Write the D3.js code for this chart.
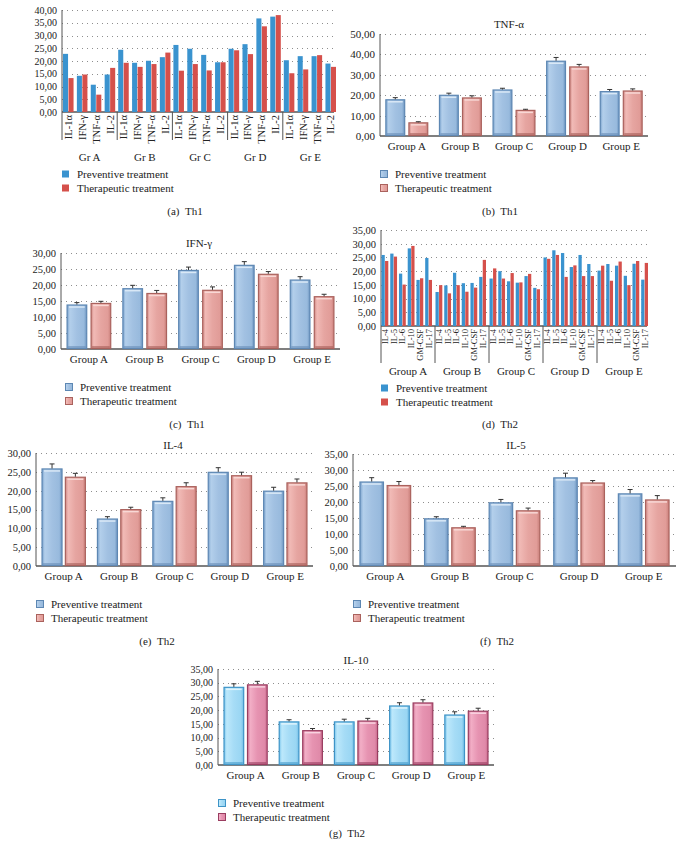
<!DOCTYPE html>
<html><head><meta charset="utf-8">
<script src="https://cdn.jsdelivr.net/npm/d3@7"></script>
<style>
body{margin:0;background:#fff}
svg{display:block;font-family:"Liberation Serif","Times New Roman",serif}
</style>
</head><body>
<svg id="chart" width="682" height="851"></svg>
<script>
// ---------- DATA ----------
const groupNames = ["Group A","Group B","Group C","Group D","Group E"];
const seriesNames = ["Preventive treatment","Therapeutic treatment"];

// (a) Th1 all cytokines
const th1GroupNames = ["Gr A","Gr B","Gr C","Gr D","Gr E"];
const th1Cytokines = ["IL-1α","IFN-γ","TNF-α","IL-2"];
const th1Preventive = [22.8,14.2,10.7,14.7, 24.4,19.3,20.1,21.5, 26.3,24.8,22.4,19.5, 24.8,26.6,36.7,37.4, 20.3,21.9,21.9,19.0];
const th1Therapeutic = [13.3,14.7,6.8,17.3, 19.3,17.7,18.8,23.3, 16.2,18.8,16.3,19.5, 24.2,22.7,33.6,38.0, 15.2,16.7,22.3,17.7];
const th1Ticks = [0,5,10,15,20,25,30,35,40];

// (d) Th2 all cytokines
const th2Cytokines = ["IL-4","IL-5","IL-6","IL-10","GM-CSF","IL-17"];
const th2Preventive = [25.9,26.4,19.1,28.3,16.8,24.8, 12.4,14.8,19.4,15.6,15.7,17.9, 17.3,20.0,16.3,15.8,18.2,13.9, 25.0,27.6,26.6,21.5,25.9,22.6, 20.2,22.6,22.0,18.3,22.7,16.9];
const th2Therapeutic = [23.7,25.3,15.1,29.2,17.4,16.8, 14.9,11.9,14.9,12.5,14.0,24.1, 21.0,17.3,19.3,15.9,19.0,13.4, 24.5,25.9,17.9,22.1,18.2,18.2, 22.0,16.5,23.5,14.9,23.7,23.0];
const th2Ticks = [0,5,10,15,20,25,30,35];

// (b) TNF-α
const tnfPreventive = [18.0,20.2,22.8,36.9,22.0];
const tnfTherapeutic = [6.7,18.9,12.8,34.1,22.3];
const tnfPrevErr = [0.8,0.8,0.6,1.6,0.8];
const tnfTherErr = [0.3,0.8,0.3,1.0,0.8];
const tnfTicks = [0,10,20,30,40,50];

// (c) IFN-γ
const ifnPreventive = [13.9,19.0,24.7,26.3,21.7];
const ifnTherapeutic = [14.4,17.5,18.5,23.5,16.5];
const ifnPrevErr = [0.6,0.9,0.9,1.0,0.9];
const ifnTherErr = [0.5,0.8,0.9,0.7,0.6];
const ifnTicks = [0,5,10,15,20,25,30];

// (e) IL-4
const il4Preventive = [25.9,12.6,17.3,25.0,20.0];
const il4Therapeutic = [23.7,15.1,21.2,24.1,22.2];
const il4PrevErr = [1.2,0.5,0.8,1.1,0.9];
const il4TherErr = [0.9,0.5,0.9,0.8,0.9];
const il4Ticks = [0,5,10,15,20,25,30];

// (f) IL-5
const il5Preventive = [26.4,14.9,19.9,27.7,22.7];
const il5Therapeutic = [25.3,12.1,17.4,26.1,20.8];
const il5PrevErr = [1.2,0.5,0.9,1.3,1.2];
const il5TherErr = [1.1,0.3,0.7,0.6,1.2];
const il5Ticks = [0,5,10,15,20,25,30,35];

// (g) IL-10
const il10Preventive = [28.5,15.9,15.9,21.7,18.4];
const il10Therapeutic = [29.4,12.7,16.2,22.8,19.8];
const il10PrevErr = [1.1,0.6,0.8,1.0,1.0];
const il10TherErr = [1.1,0.6,0.8,1.0,0.9];
const il10Ticks = [0,5,10,15,20,25,30,35];

// ---------- DRAWING ----------
const FONT = '"Liberation Serif","Times New Roman",serif';
const svg = d3.select("#chart");
const fmt = v => d3.format(".2f")(v).replace(".", ",");
const defs = svg.append("defs");
function grad(id, stops){
  const g = defs.append("linearGradient").attr("id", id).attr("x1",0).attr("x2",1).attr("y1",0).attr("y2",0);
  stops.forEach(([o,c]) => g.append("stop").attr("offset",o).attr("stop-color",c));
}
grad("gBlue", [[0,"#7ba3cd"],[0.14,"#b3cfeb"],[0.5,"#a2c1e2"],[0.86,"#98badd"],[1,"#6d95c0"]]);
grad("gRed",  [[0,"#cf8985"],[0.14,"#f1bab6"],[0.5,"#e6a5a1"],[0.86,"#e19c98"],[1,"#c97f7a"]]);
grad("gCyan", [[0,"#7cc6ec"],[0.14,"#bce8fb"],[0.5,"#a6dcf6"],[0.86,"#9ad6f3"],[1,"#72bde6"]]);
grad("gPink", [[0,"#cf7596"],[0.14,"#f2aec6"],[0.5,"#e693b1"],[0.86,"#e08aa9"],[1,"#c86b8d"]]);

const softStyles = {
  soft: [{fill:"url(#gBlue)", stroke:"#5d87b3", hi:"#d9e8f6", base:"#6b90b9"},
         {fill:"url(#gRed)",  stroke:"#aa625d", hi:"#f8d8d5", base:"#a9605b"}],
  pink: [{fill:"url(#gCyan)", stroke:"#3e94c7", hi:"#e0f5fd", base:"#4a9ccb"},
         {fill:"url(#gPink)", stroke:"#9a3d60", hi:"#f9d3e1", base:"#9c4164"}]
};
const flatColors = ["#3a93cf","#d5504b"];

function txt(g, x, y, s, fs, anchor){
  return g.append("text").attr("x",x).attr("y",y).attr("font-size",fs)
    .attr("font-family",FONT).attr("fill","#222").attr("text-anchor",anchor||"middle")
    .attr("dy","0.35em").text(s);
}

function axesGrid(g, y, x0, xGridEnd, xAxisEnd, ticks, fs){
  g.append("g").selectAll("line").data(ticks.filter(t=>t>0)).join("line")
    .attr("x1",x0).attr("x2",xGridEnd)
    .attr("y1",d=>Math.round(y(d))+0.5).attr("y2",d=>Math.round(y(d))+0.5)
    .attr("stroke","#8e8e8e").attr("stroke-dasharray","1,4");
  const ax = g.append("g").attr("transform",`translate(${x0},0)`)
    .call(d3.axisLeft(y).tickValues(ticks).tickSize(0).tickPadding(5).tickFormat(fmt));
  ax.select(".domain").remove();
  ax.attr("font-family",FONT).attr("font-size",fs);
  ax.selectAll("text").attr("fill","#222");
  const yb = y.range()[0], yt = y.range()[1];
  g.append("line").attr("x1",x0).attr("x2",x0).attr("y1",yt).attr("y2",yb).attr("stroke","#555");
  g.append("line").attr("x1",x0).attr("x2",xAxisEnd).attr("y1",yb).attr("y2",yb).attr("stroke","#555").attr("stroke-width",1.3);
}

function legend(g, x, y, kind){
  seriesNames.forEach((s,i)=>{
    const cy = y + i*14;
    if(kind === "flat"){
      g.append("rect").attr("x",x).attr("y",cy-3.5).attr("width",7).attr("height",7).attr("fill",flatColors[i]);
    } else {
      const st = softStyles[kind][i];
      g.append("rect").attr("x",x+0.5).attr("y",cy-3.5).attr("width",7).attr("height",7)
        .attr("fill",st.fill).attr("stroke",st.stroke);
    }
    txt(g, x+15, cy, s, 11, "start");
  });
}

function caption(g, x, y, a, b){
  const t = g.append("text").attr("x",x).attr("y",y).attr("font-size",11).attr("font-family",FONT)
    .attr("fill","#222").attr("text-anchor","middle").attr("dy","0.35em");
  t.text(a + "\u2002" + b);
}

// Simple grouped panel with error bars
function simplePanel(c){
  const g = svg.append("g");
  const y = d3.scaleLinear().domain([0, c.ticks[c.ticks.length-1]]).range([c.yBot, c.yTop]);
  const x = d3.scaleBand().domain(groupNames).range([c.x0, c.x1]).paddingInner(0.2).paddingOuter(0.1);
  const xs = d3.scaleBand().domain([0,1]).range([0, x.bandwidth()]).paddingInner(c.inner||0.14);
  axesGrid(g, y, c.x0, c.x1, c.x1, c.ticks, c.tickFs);
  const recs = [];
  groupNames.forEach((gn,i)=>{
    recs.push({g:gn, s:0, v:c.prev[i], e:c.prevErr[i]});
    recs.push({g:gn, s:1, v:c.ther[i], e:c.therErr[i]});
  });
  const bars = g.append("g").selectAll("g").data(recs).join("g");
  bars.each(function(d){
    const st = softStyles[c.style][d.s];
    const bx = x(d.g) + xs(d.s), bw = xs.bandwidth();
    const by = y(d.v), bh = y(0) - y(d.v);
    const sel = d3.select(this);
    sel.append("rect").attr("x",bx+0.5).attr("y",by+0.5).attr("width",bw-1).attr("height",bh-1)
      .attr("fill",st.fill).attr("stroke",st.stroke).attr("stroke-width",1.2);
    sel.append("line").attr("x1",bx+2.5).attr("x2",bx+bw-2.5).attr("y1",by+2.5).attr("y2",by+2.5)
      .attr("stroke",st.hi).attr("stroke-width",1.5);
    sel.append("rect").attr("x",bx+1.5).attr("y",y(0)-3).attr("width",bw-3).attr("height",2.5)
      .attr("fill",st.base).attr("opacity",0.6);
    const cx = bx + bw/2, ey = y(d.v + d.e);
    sel.append("line").attr("x1",cx).attr("x2",cx).attr("y1",by).attr("y2",ey).attr("stroke","#333");
    sel.append("line").attr("x1",cx-2.5).attr("x2",cx+2.5).attr("y1",ey).attr("y2",ey).attr("stroke","#333");
  });
  groupNames.forEach(gn => txt(g, x(gn)+x.bandwidth()/2, c.labelY, gn, 11));
  if(c.title) txt(g, c.titleX, c.titleY, c.title, 11);
  legend(g, c.legX, c.legY, c.style);
  caption(g, c.capX, c.capY, c.capA, c.capB);
}

// Panel with sub-categories inside groups
function subPanel(c){
  const g = svg.append("g");
  const y = d3.scaleLinear().domain([0, c.ticks[c.ticks.length-1]]).range([c.yBot, c.yTop]);
  const x = d3.scaleBand().domain(c.groups).range([c.x0, c.x1]);
  const gs = x.step();
  const xc = d3.scaleBand().domain(c.cats).range([c.catPadL, gs - c.catPadR]).paddingInner(c.catPad);
  const xs = d3.scaleBand().domain([0,1]).range([0, xc.bandwidth()]).paddingInner(0.08);
  const gridEnd = c.x1 - 4;
  axesGrid(g, y, c.x0, gridEnd, gridEnd, c.ticks, c.tickFs);
  const recs = [];
  c.groups.forEach((gn,i)=>{
    c.cats.forEach((cn,j)=>{
      const k = i*c.cats.length + j;
      recs.push({g:gn, c:cn, s:0, v:c.prev[k]});
      recs.push({g:gn, c:cn, s:1, v:c.ther[k]});
    });
  });
  g.append("g").selectAll("rect").data(recs).join("rect")
    .attr("x", d => x(d.g) + xc(d.c) + xs(d.s))
    .attr("y", d => y(d.v))
    .attr("width", xs.bandwidth())
    .attr("height", d => y(0) - y(d.v))
    .attr("fill", d => flatColors[d.s]);
  // rotated category labels
  c.groups.forEach(gn=>{
    c.cats.forEach(cn=>{
      const cx = x(gn) + xc(cn) + xc.bandwidth()/2;
      g.append("text").attr("transform",`translate(${cx},${c.yBot+3}) rotate(-90)`)
        .attr("text-anchor","end").attr("dy","0.35em").attr("font-size",c.catFs)
        .attr("font-family",FONT).attr("fill","#222").text(cn);
    });
    g.append("line").attr("x1",x(gn)).attr("x2",x(gn)).attr("y1",c.yBot).attr("y2",c.sepY).attr("stroke","#555");
    txt(g, x(gn)+gs/2, c.labelY, gn, 11);
  });
  legend(g, c.legX, c.legY, "flat");
  caption(g, c.capX, c.capY, c.capA, c.capB);
}

// (a)
subPanel({groups:th1GroupNames, cats:th1Cytokines, prev:th1Preventive, ther:th1Therapeutic, ticks:th1Ticks,
  x0:62, x1:338, yTop:10, yBot:112, catPadL:1, catPadR:2, catPad:0.24, catFs:10.5, tickFs:10,
  sepY:140, labelY:157, legX:62, legY:174, capX:185, capY:211, capA:"(a)", capB:"Th1"});

// (d)
subPanel({groups:groupNames, cats:th2Cytokines, prev:th2Preventive, ther:th2Therapeutic, ticks:th2Ticks,
  x0:381, x1:651, yTop:230, yBot:326, catPadL:0.5, catPadR:3, catPad:0.22, catFs:8.5, tickFs:10.5,
  sepY:363, labelY:371, legX:381, legY:388, capX:500, capY:424, capA:"(d)", capB:"Th2"});

// (b)
simplePanel({prev:tnfPreventive, ther:tnfTherapeutic, prevErr:tnfPrevErr, therErr:tnfTherErr, ticks:tnfTicks,
  x0:380, x1:648, yTop:34, yBot:136, tickFs:11, style:"soft", title:"TNF-α", titleX:509, titleY:24,
  labelY:146, legX:380, legY:174, capX:500, capY:211, capA:"(b)", capB:"Th1"});

// (c)
simplePanel({prev:ifnPreventive, ther:ifnTherapeutic, prevErr:ifnPrevErr, therErr:ifnTherErr, ticks:ifnTicks,
  x0:61, x1:340, yTop:253, yBot:349, tickFs:10.5, style:"soft", title:"IFN-γ", titleX:199, titleY:243,
  labelY:359, legX:65, legY:387, capX:187, capY:424, capA:"(c)", capB:"Th1"});

// (e)
simplePanel({prev:il4Preventive, ther:il4Therapeutic, prevErr:il4PrevErr, therErr:il4TherErr, ticks:il4Ticks,
  x0:36, x1:313, yTop:453, yBot:566, tickFs:10.5, style:"soft", title:"IL-4", titleX:173, titleY:445,
  labelY:576, legX:36, legY:604, capX:157, capY:641, capA:"(e)", capB:"Th2", inner:0.1});

// (f)
simplePanel({prev:il5Preventive, ther:il5Therapeutic, prevErr:il5PrevErr, therErr:il5TherErr, ticks:il5Ticks,
  x0:353, x1:676, yTop:454, yBot:566, tickFs:10.5, style:"soft", title:"IL-5", titleX:516, titleY:445,
  labelY:576, legX:353, legY:604, capX:497, capY:641, capA:"(f)", capB:"Th2", inner:0.1});

// (g)
simplePanel({prev:il10Preventive, ther:il10Therapeutic, prevErr:il10PrevErr, therErr:il10TherErr, ticks:il10Ticks,
  x0:218, x1:494, yTop:669, yBot:765, tickFs:10, style:"pink", title:"IL-10", titleX:356, titleY:660,
  labelY:775, legX:218, legY:803, capX:347, capY:833, capA:"(g)", capB:"Th2", inner:0.12});
</script>
</body></html>
